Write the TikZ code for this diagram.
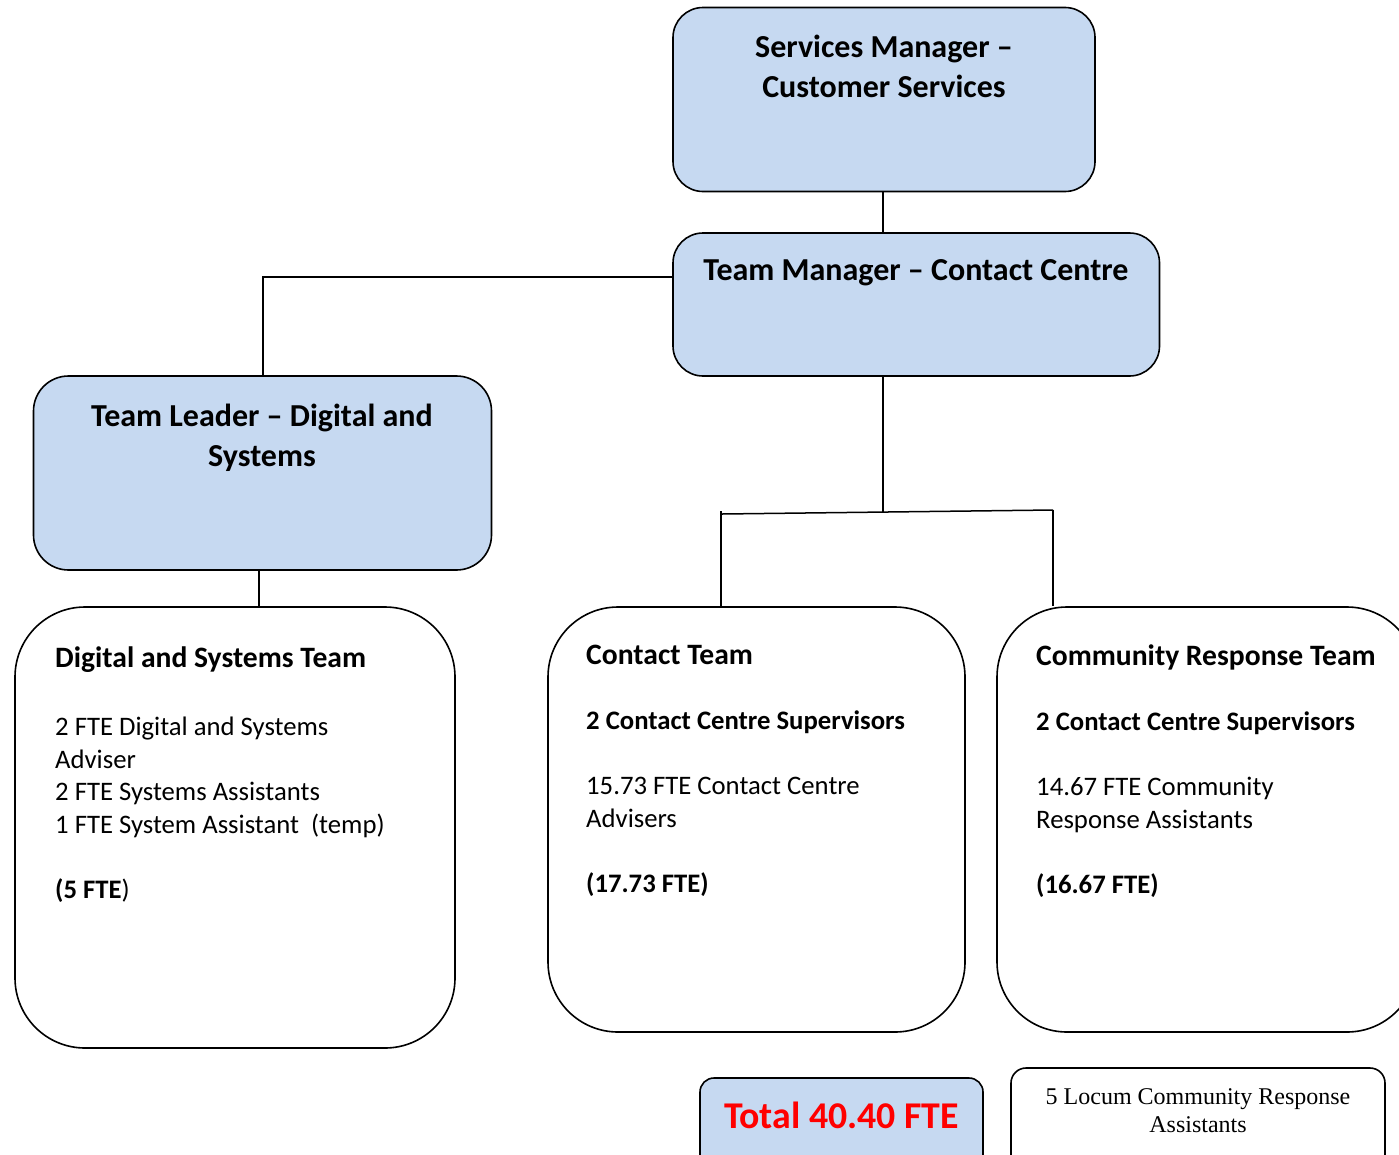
\documentclass[tikz,border=0pt]{standalone}
\usepackage{fontspec}
\setmainfont{Carlito}
\newfontfamily\seriffam{Liberation Serif}
\definecolor{boxblue}{HTML}{C6D9F1}
\definecolor{totalred}{HTML}{FF0000}
\newcommand{\teamhead}[1]{{\fontsize{29.6}{32.7}\selectfont\bfseries #1}}
\begin{document}
\begin{tikzpicture}[x=1pt,y=-1pt,
  box/.style={draw=black, line width=1.6pt, rounded corners=#1, inner sep=0pt},
  bluebox/.style={box=#1, fill=boxblue},
  conn/.style={draw=black, line width=1.5pt},
  headtxt/.style={inner sep=0pt, anchor=base, align=center, font=\fontsize{32}{40}\selectfont\bfseries},
  bodytxt/.style={inner sep=0pt, anchor=base west, align=left, font=\fontsize{26.7}{32.7}\selectfont}]
\useasboundingbox (0,0) rectangle (1399,1154);
\clip (0,0) rectangle (1399,1154);

% boxes
\node[bluebox=30, minimum width=422pt, minimum height=184pt] (sm) at (884,99.5) {};
\node[bluebox=30, minimum width=486.5pt, minimum height=143pt] (tm) at (916.25,304.5) {};
\node[bluebox=35, minimum width=458pt, minimum height=194pt] (tl) at (262.5,473) {};
\node[box=70, minimum width=440pt, minimum height=441pt] (ds) at (235,827.5) {};
\node[box=70, minimum width=417pt, minimum height=425pt] (ct) at (756.5,819.5) {};
\node[box=70, minimum width=420pt, minimum height=425pt] (cr) at (1207,819.5) {};
\node[bluebox=14, minimum width=283pt, minimum height=97pt] (tot) at (841.5,1126.5) {};
\node[box=15, minimum width=374pt, minimum height=107pt] (loc) at (1198,1121.5) {};

% texts (anchor base = baseline of the last line)
\node[headtxt] (smt) at (884,97.5) {Services Manager --\\Customer Services};
\node[headtxt] (tmt) at (916,280) {Team Manager -- Contact Centre};
\node[headtxt] (tlt) at (262,466.5) {Team Leader -- Digital and\\Systems};

\node[bodytxt] (dst) at (55,898.5) {\teamhead{Digital and Systems Team}\\[35.3pt]
2 FTE Digital and Systems\\Adviser\\2 FTE Systems Assistants\\1 FTE System Assistant~~(temp)\\[32.3pt]
\textbf{(5 FTE})};
\node[bodytxt] (ctt) at (586,892.5) {\teamhead{Contact Team}\\[32.3pt]
\textbf{2 Contact Centre Supervisors}\\[32.3pt]
15.73 FTE Contact Centre\\Advisers\\[32.3pt]
\textbf{(17.73 FTE)}};
\node[bodytxt] (crt) at (1036,893) {\teamhead{Community Response Team}\\[32.3pt]
\textbf{2 Contact Centre Supervisors}\\[32.3pt]
14.67 FTE Community\\Response Assistants\\[32.3pt]
\textbf{(16.67 FTE)}};

\node[inner sep=0pt, anchor=base, text=totalred, font=\fontsize{37.8}{45}\selectfont\bfseries] (tott) at (841.5,1128.5) {Total 40.40 FTE};
\node[inner sep=0pt, anchor=base, align=center, font=\seriffam\fontsize{24}{28}\selectfont] (loct) at (1198,1132) {5 Locum Community Response\\Assistants};

% connectors
\coordinate (tmleft) at (tm.west |- 0,277);
\coordinate (elbowl) at (263,277);
\coordinate (junc) at (883,512);
\coordinate (brl) at (722,514);
\coordinate (brr) at (1053,510);
\coordinate (tickl) at (721,511);

\draw[conn] (sm.south -| 883,0) -- (tm.north -| 883,0);
\draw[conn] (tmleft) -- (elbowl) -- (tl.north -| elbowl);
\draw[conn] (tl.south -| 259,0) -- (ds.north -| 259,0);
\draw[conn] (tm.south -| junc) -- (junc);
\draw[conn] (brl) -- (brr);
\draw[conn] (tickl) -- (ct.north -| tickl);
\draw[conn] (brr) -- (cr.north -| brr);
\end{tikzpicture}
\end{document}
